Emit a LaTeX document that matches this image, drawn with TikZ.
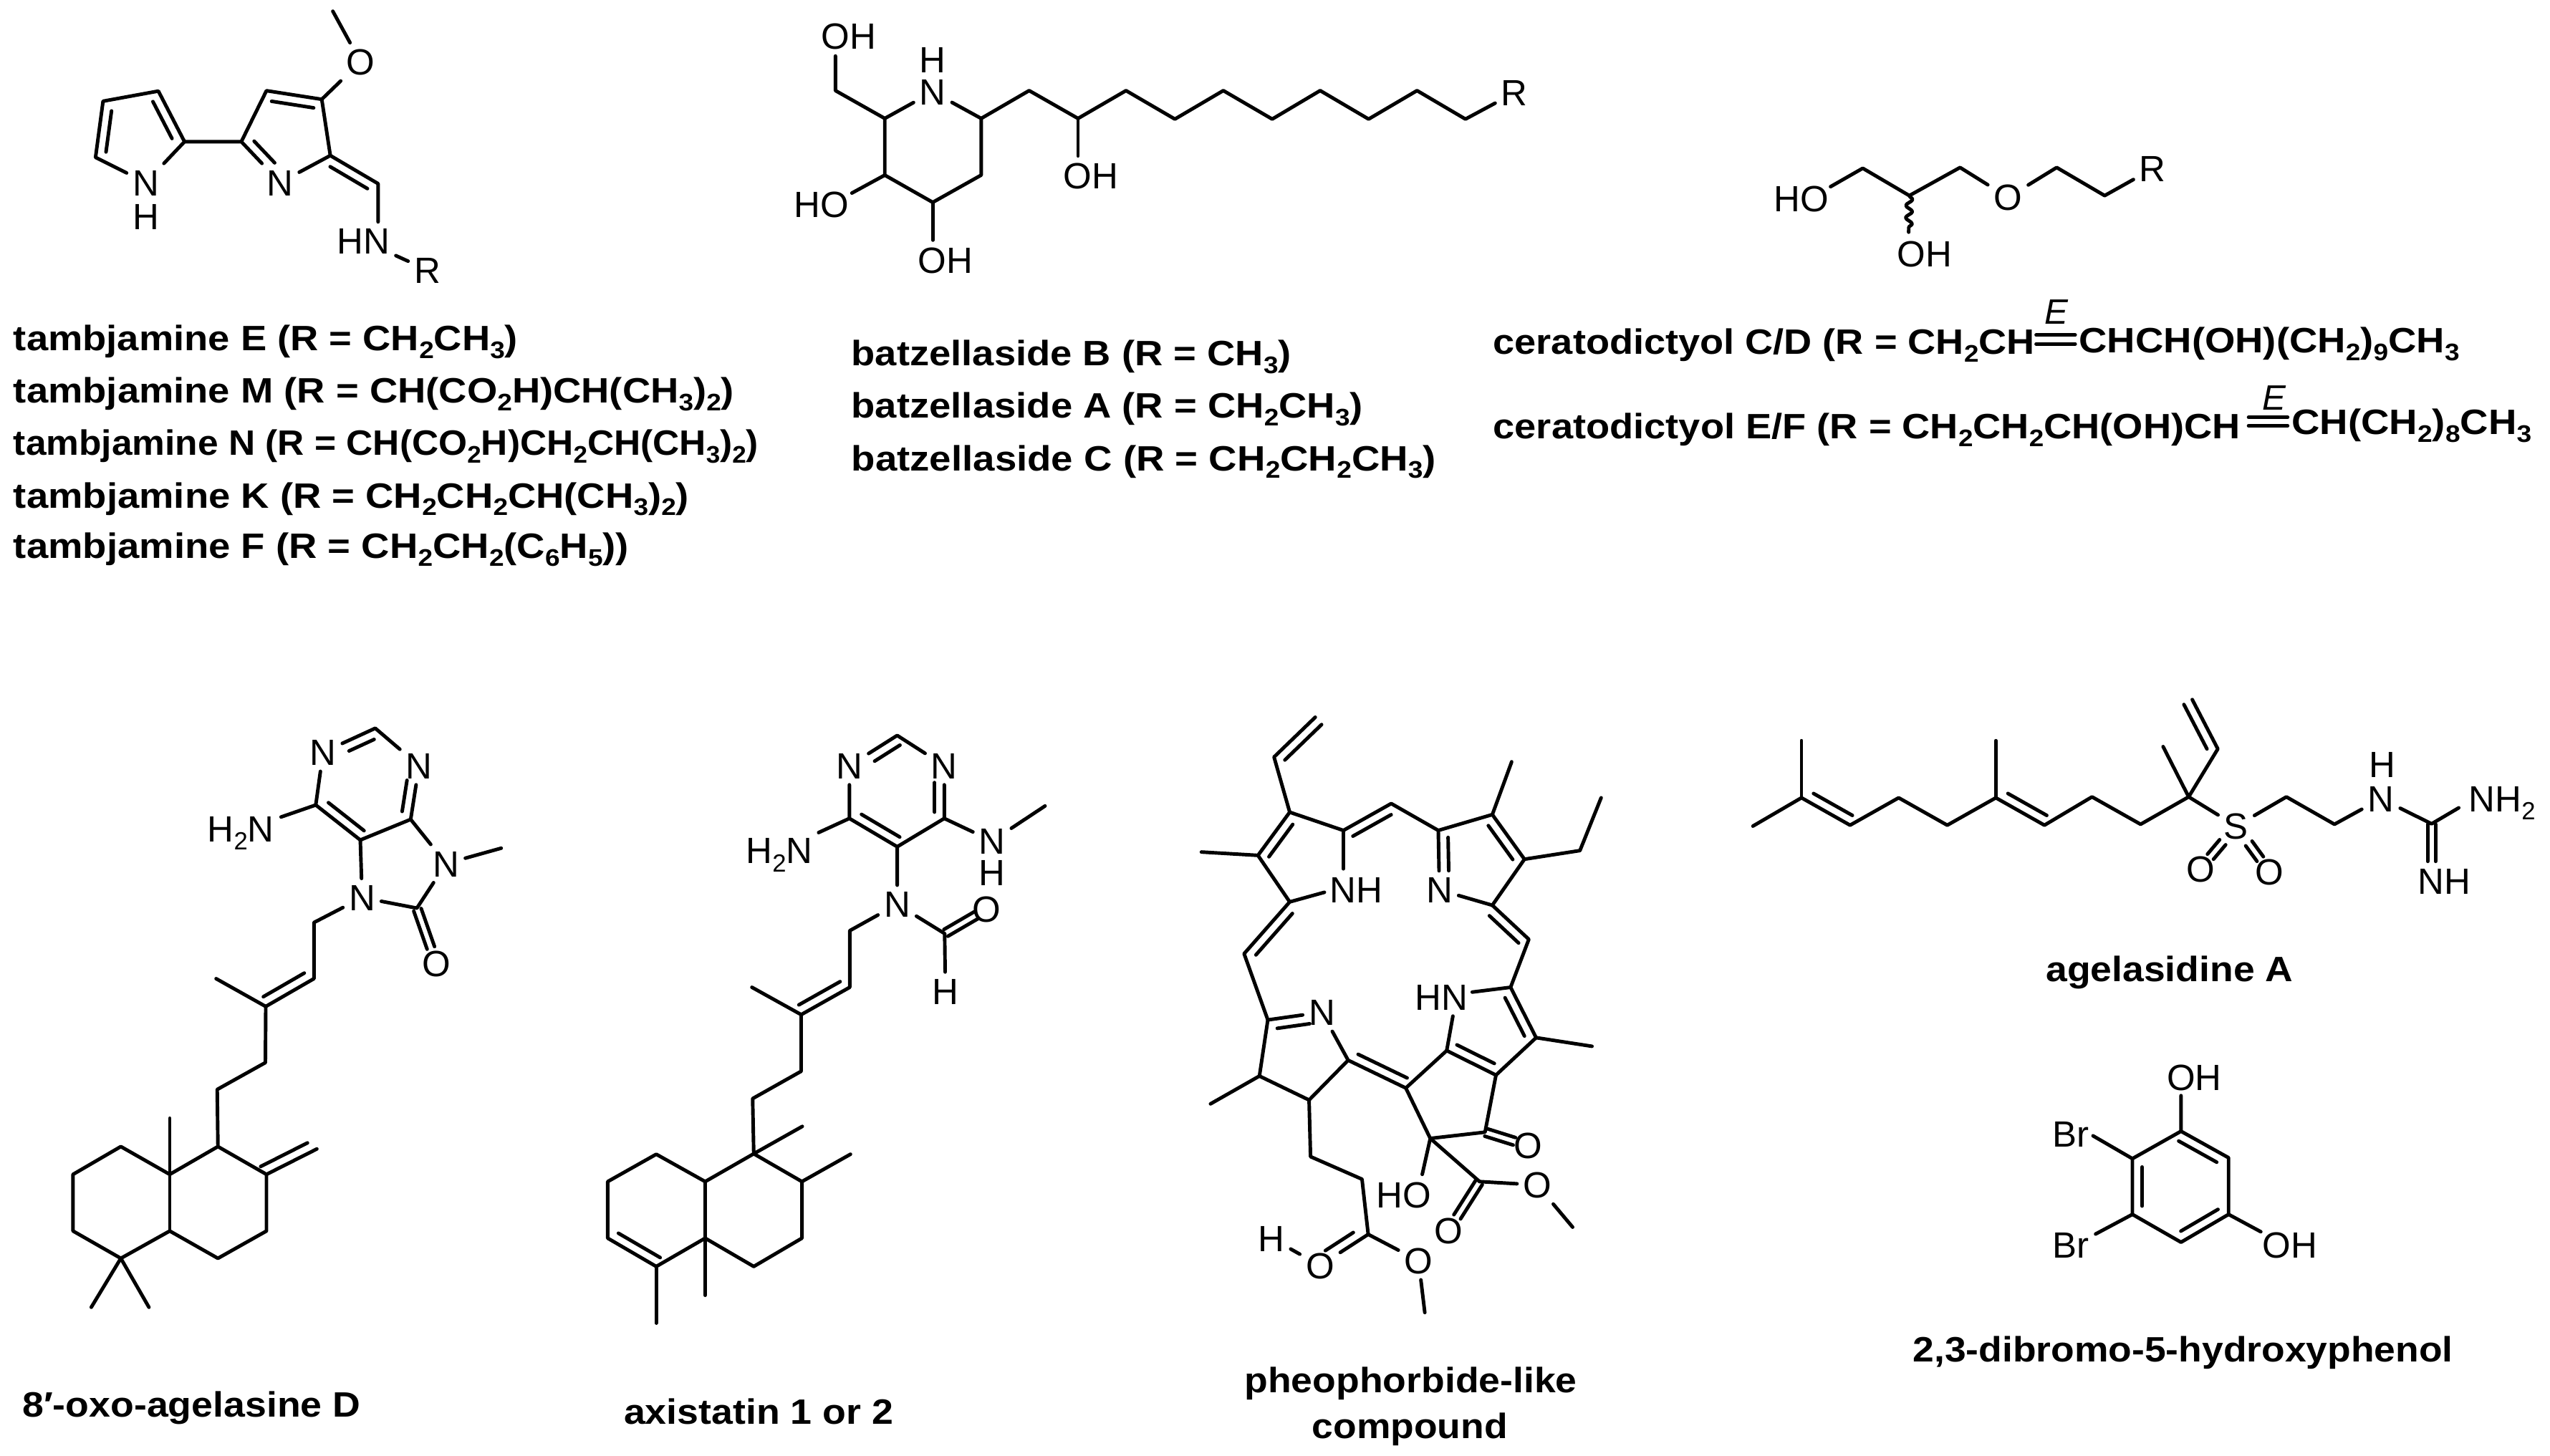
\documentclass[tikz,border=0pt]{standalone}
\usepackage{fontspec}
\setmainfont{Liberation Sans}
\usetikzlibrary{calc,decorations.pathmorphing}
\tikzset{
 bond/.style={line width=1.4pt,line cap=round,line join=round,black},
 atom/.style={inner sep=2.2pt,font=\fontsize{14.5}{14.5}\selectfont,text height=10.4pt,text depth=0pt},
 capt/.style={anchor=base west,inner sep=0pt,font=\fontsize{14}{15}\selectfont\bfseries}
}
\newcommand\sbs[1]{\raisebox{-.22em}{\scalebox{.68}{#1}}}
\newcommand\pts[1]{\foreach \n/\x/\y in {#1}{\coordinate (\n) at (\x,\y);}}
\newcommand\lab[3]{\node[atom] (#1) at (#2) {#3};}
\newcommand\captxt[4]{\node[capt] (#1) at (#2) {\resizebox{#3cm}{\height}{#4}};}
\newcommand\inn[5]{\draw[bond] ($(#1)!#4!(#2)!.135cm!#3:(#2)$) -- ($(#1)!#5!(#2)!.135cm!#3:(#2)$);}
\newcommand\two[4]{\draw[bond] ($(#1)!#3!(#2)!.055cm!90:(#2)$) -- ($(#1)!#4!(#2)!.055cm!90:(#2)$);
 \draw[bond] ($(#1)!#3!(#2)!.055cm!-90:(#2)$) -- ($(#1)!#4!(#2)!.055cm!-90:(#2)$);}
\begin{document}
\begin{tikzpicture}
\path[use as bounding box,fill=white] (0cm,0cm) rectangle (35.6cm,-20.33cm);
% ---------- tambjamine
\begin{scope}[x=.007015cm,y=-.00523cm,name prefix=a-]
\pts{p1/205/270,p2/315/243,p3/367/378,p5/190/420,q1/480/378,q2/530/242,q3/640/265,q4/657/415,c/752/490,me/662/30}
\lab{N}{290,487}{N}\lab{H}{290,577}{H}\lab{Nb}{557,487}{N}\lab{O}{717,165}{O}\lab{HN}{723,643}{HN}\lab{R}{850,720}{R}
\draw[bond] (N)--(p5)--(p1)--(p2)--(p3)--(N);
\draw[bond] (p3)--(q1)--(Nb)--(q4)--(q3)--(q2)--(q1);
\draw[bond] (q3)--(O)--(me);
\draw[bond] (q4)--(c)--(c|-HN.north);
\draw[bond] (HN)--(R);
\inn{p5}{p1}{-90}{.12}{.85}
\inn{p2}{p3}{-90}{.12}{.85}
\inn{q1}{Nb}{90}{.15}{.68}
\inn{q2}{q3}{-90}{.12}{.88}
\inn{q4}{c}{-90}{.1}{.88}
\captxt{t1}{26,935}{7.04}{tambjamine E (R = CH\sbs{2}CH\sbs{3})}
\captxt{t2}{26,1075}{10.06}{tambjamine M (R = CH(CO\sbs{2}H)CH(CH\sbs{3})\sbs{2})}
\captxt{t3}{26,1215}{10.40}{tambjamine N (R = CH(CO\sbs{2}H)CH\sbs{2}CH(CH\sbs{3})\sbs{2})}
\captxt{t4}{26,1355}{9.43}{tambjamine K (R = CH\sbs{2}CH\sbs{2}CH(CH\sbs{3})\sbs{2})}
\captxt{t5}{26,1490}{8.59}{tambjamine F (R = CH\sbs{2}CH\sbs{2}(C\sbs{6}H\sbs{5}))}
\end{scope}
% ---------- batzellaside
\begin{scope}[shift={(11cm,0cm)},x=.006378cm,y=-.004464cm,name prefix=b-]
\pts{c1/104/283,c2/212/370,c3/423/370,c4/423/547,c5/317/632,c6/212/547,e1/104/175,e2/140/603,e3/317/750,e4/635/487,
 k1/528/283,k2/635/370,k3/740/283,k4/847/372,k5/953/283,k6/1060/372,k7/1165/283,k8/1271/372,k9/1377/283,k10/1483/372}
\lab{OHa}{133,113}{OH}\lab{H}{317,187}{H}\lab{N}{317,287}{N}\lab{HO}{73,637}{HO}\lab{OHb}{345,812}{OH}\lab{OHc}{663,548}{OH}\lab{R}{1590,290}{R}
\draw[bond] (e1)--(c1)--(c2)--(N)--(c3)--(c4)--(c5)--(c6)--(c2);
\draw[bond] (c6)--(e2);
\draw[bond] (c5)--(e3);
\draw[bond] (c3)--(k1)--(k2)--(k3)--(k4)--(k5)--(k6)--(k7)--(k8)--(k9)--(k10)--(R);
\draw[bond] (k2)--(e4);
\captxt{z1}{138,1143}{6.14}{batzellaside B (R = CH\sbs{3})}
\captxt{z2}{138,1306}{7.14}{batzellaside A (R = CH\sbs{2}CH\sbs{3})}
\captxt{z3}{138,1470}{8.16}{batzellaside C (R = CH\sbs{2}CH\sbs{2}CH\sbs{3})}
\end{scope}
% ---------- ceratodictyol
\begin{scope}[shift={(20.6cm,-1cm)},x=.009566cm,y=-.003571cm,name prefix=c-]
\pts{c1/565/378,c2/633/485,c3/707/375,c4/848/375,c5/918/485,e1/518/450,w/632/628,
 dA/818/1030,dB/875/1030,dC/818/1065,dD/875/1065,dE/1128/1352,dF/1185/1352,dG/1128/1385,dH/1185/1385}
\lab{HO}{475,497}{HO}\lab{O}{777,492}{O}\lab{R}{988,380}{R}\lab{OH}{655,712}{OH}
\draw[bond] (e1)--(c1)--(c2)--(c3)--(O)--(c4)--(c5)--(R);
\draw[bond,decorate,decoration={snake,amplitude=.045cm,segment length=.17cm}] (c2)--(w);
\captxt{l1}{25,1105}{7.56}{ceratodictyol C/D (R = CH\sbs{2}CH}
\captxt{l2}{880,1100}{5.31}{CHCH(OH)(CH\sbs{2})\sbs{9}CH\sbs{3}}
\captxt{l3}{25,1435}{10.43}{ceratodictyol E/F (R = CH\sbs{2}CH\sbs{2}CH(OH)CH}
\captxt{l4}{1190,1420}{3.35}{CH(CH\sbs{2})\sbs{8}CH\sbs{3}}
\node[atom,font=\fontsize{14}{14}\selectfont\itshape] (Ea) at (848,935) {E};
\node[atom,font=\fontsize{14}{14}\selectfont\itshape] (Eb) at (1165,1272) {E};
\draw[bond] (dA)--(dB) (dC)--(dD) (dE)--(dF) (dG)--(dH);
\end{scope}
% ---------- 8'-oxo-agelasine D
\begin{scope}[shift={(0cm,-9.8cm)},x=.005102cm,y=-.006696cm,name prefix=d-]
\pts{c2/1028/55,c4/1125/245,c5/987/288,c6/865/215,c8/1142/430,me/1373/305,e1/770/240,
 f1/860/460,f2/860/577,f3/728/635,f4/592/577,f5/727/752,f6/595/808,f7/597/927,
 r1/465/985,r2/465/868,r3/331/927,r4/200/985,r5/200/1103,r6/331/1160,r7/465/1103,r8/597/1160,r9/730/1103,r10/730/985,ex/868/932,m1/250/1262,m2/408/1262}
\lab{N1}{885,105}{N}\lab{N3}{1148,133}{N}\lab{N9}{1222,337}{N}\lab{N7}{992,408}{N}\lab{O}{1195,545}{O}
\lab{HN}{660,265}{H\sbs{2}N}
\draw[bond] (c6)--(N1)--(c2)--(N3)--(c4)--(c5)--(c6)--(e1);
\draw[bond] (c4)--(N9)--(c8)--(N7)--(c5);
\draw[bond] (N9)--(me);
\draw[bond] (N7)--(f1)--(f2)--(f3)--(f4);
\draw[bond] (f3)--(f5)--(f6)--(f7)--(r10)--(r9)--(r8)--(r7)--(r6)--(r5)--(r4)--(r3)--(r1)--(f7);
\draw[bond] (r1)--(r7);
\draw[bond] (r1)--(r2);
\draw[bond] (r10)--(ex);
\draw[bond] (m1)--(r6)--(m2);
\inn{N1}{c2}{-90}{.42}{.9}
\inn{N3}{c4}{-90}{.3}{.88}
\inn{c5}{c6}{-90}{.05}{.85}
\inn{f2}{f3}{-90}{.1}{.95}
\inn{r10}{ex}{90}{-.03}{.9}
\two{c8}{O}{.03}{.72}
\captxt{cp}{60,1490}{4.72}{8′-oxo-agelasine D}
\end{scope}
% ---------- axistatin
\begin{scope}[shift={(8cm,-9.8cm)},x=.005102cm,y=-.006696cm,name prefix=e-]
\pts{c2/888/70,c4/1017/243,c5/888/302,c6/757/243,me/1293/217,cho/1018/483,
 f1/758/477,f2/758/595,f3/625/652,f4/490/595,f5/625/770,f6/492/827,f7/495/942,f8/628/885,
 r1/362/1000,r2/228/943,r3/95/1000,r4/95/1118,r5/228/1177,r6/362/1118,r7/495/1177,r8/627/1118,r9/627/1000,r10/760/943,r11/228/1295,r12/362/1237}
\lab{N1}{757,133}{N}\lab{N3}{1017,133}{N}\lab{NH}{1148,290}{N}\lab{Hn}{1148,355}{H}\lab{Nf}{888,422}{N}\lab{O}{1133,432}{O}\lab{Hc}{1020,603}{H}
\lab{HN}{565,310}{H\sbs{2}N}
\draw[bond] (c6)--(N1)--(c2)--(N3)--(c4)--(c5)--(c6)--(HN);
\draw[bond] (c4)--(NH)--(me);
\draw[bond] (c5)--(Nf)--(f1)--(f2)--(f3)--(f4);
\draw[bond] (Nf)--(cho)--(Hc);
\draw[bond] (f3)--(f5)--(f6)--(f7)--(r1)--(r2)--(r3)--(r4)--(r5)--(r6)--(r7)--(r8)--(r9)--(f7)--(f8);
\draw[bond] (r1)--(r6)--(r12);
\draw[bond] (r9)--(r10);
\draw[bond] (r5)--(r11);
\inn{N1}{c2}{-90}{.42}{.95}
\inn{N3}{c4}{-90}{.32}{.88}
\inn{c5}{c6}{-90}{.05}{.85}
\inn{f2}{f3}{-90}{.1}{.95}
\inn{r4}{r5}{90}{.12}{.98}
\two{cho}{O}{.03}{.75}
\captxt{cp}{138,1505}{3.76}{axistatin 1 or 2}
\end{scope}
% ---------- pheophorbide
\begin{scope}[shift={(16.4cm,-9.8cm)},x=.005102cm,y=-.006696cm,name prefix=f-]
\pts{v2/385/32,v1/272/115,a1/315/230,a2/228/320,a3/315/417,a5/462/268,m1/593/212,b1/722/268,b2/870/235,b3/958/328,b4/870/424,m2/970/495,c1/920/595,c2/990/700,c3/880/778,c4/745/727,c5/633/805,c6/850/897,c7/700/910,c8/835/1000,d1/475/747,d2/255/663,d3/232/780,d4/368/830,m3/190/525,me1/73/313,me2/923/125,et1/1110/310,et2/1168/200,me3/1143/718,me4/98/838,me5/1090/1095,p1/372/948,p2/513/995,p3/530/1110,me6/685/1273,
 e1/410/397,e2/462/348,e3/815/605,e4/762/655,e5/678/985}
\lab{NHa}{497,392}{NH}\lab{Nn}{725,392}{N}\lab{HNa}{730,615}{HN}\lab{Nc}{403,647}{N}\lab{Oa}{968,925}{O}\lab{HOa}{628,1027}{HO}\lab{Oe}{993,1007}{O}\lab{Ob}{750,1102}{O}\lab{Hh}{265,1118}{H}\lab{Oc}{398,1175}{O}\lab{Od}{668,1165}{O}
\draw[bond] (v2)--(v1)--(a1)--(a2)--(me1);
\draw[bond] (a2)--(a3)--(e1);
\draw[bond] (a1)--(a5)--(e2);
\draw[bond] (a5)--(m1)--(b1)--(Nn)--(b4)--(b3)--(b2)--(b1);
\draw[bond] (b2)--(me2);
\draw[bond] (b3)--(et1)--(et2);
\draw[bond] (b4)--(m2)--(c1)--(e3);
\draw[bond] (c1)--(c2)--(me3);
\draw[bond] (c2)--(c3)--(c4)--(e4);
\draw[bond] (c4)--(c5);
\draw[bond] (c3)--(c6)--(c7)--(c5);
\draw[bond] (c7)--(e5);
\draw[bond] (c7)--(c8)--(Oe)--(me5);
\draw[bond] (c5)--(d1)--(Nc)--(d2)--(m3)--(a3);
\draw[bond] (d2)--(d3)--(me4);
\draw[bond] (d3)--(d4)--(d1);
\draw[bond] (d4)--(p1)--(p2)--(p3)--(Oc)--(Hh);
\draw[bond] (p3)--(Od)--(me6);
\inn{v1}{v2}{-90}{.1}{.99}
\inn{a1}{a2}{90}{.15}{.9}
\inn{a5}{m1}{-90}{.1}{.9}
\inn{b1}{Nn}{90}{.12}{.68}
\inn{b3}{b2}{90}{.12}{.88}
\inn{b4}{m2}{-90}{.1}{.9}
\inn{c1}{c2}{-90}{.12}{.88}
\inn{c4}{c3}{90}{.12}{.88}
\inn{d1}{c5}{90}{.1}{.95}
\inn{Nc}{d2}{90}{.25}{.85}
\inn{m3}{a3}{-90}{.1}{.9}
\inn{p3}{Oc}{-90}{.2}{.78}
\two{c6}{Oa}{.02}{.68}
\two{c8}{Ob}{.02}{.72}
\captxt{c1t}{190,1440}{4.64}{pheophorbide-like}
\captxt{c2t}{375,1535}{2.73}{compound}
\end{scope}
% ---------- agelasidine and phenol
\begin{scope}[shift={(24.4cm,-9.8cm)},x=.007143cm,y=-.006378cm,name prefix=g-]
\pts{g1/10/272,g2/105/210,g3/105/85,g4/200/270,g5/295/210,g6/390/270,g7/485/210,g8/485/85,g9/580/270,g10/673/208,g11/768/268,g12/862/208,g13/812/98,g14/919/103,g15/869/-5,
 s1/1053/208,s2/1147/268,gc/1337/267,gb/1337/350,e1/1390/232,
 r1/847/940,r2/940/998,r3/940/1122,r4/847/1183,r5/752/1122,r6/752/1000,f1/847/862,f2/1003/1160,f3/675/950,f4/680/1165}
\lab{S}{955,272}{S}\lab{Oa}{885,365}{O}\lab{Ob}{1020,372}{O}\lab{H}{1240,137}{H}\lab{N}{1238,212}{N}\lab{NHb}{1475,212}{NH\sbs{2}}\lab{NHc}{1362,392}{NH}
\lab{OHa}{873,822}{OH}\lab{Bra}{632,945}{Br}\lab{Brb}{632,1188}{Br}\lab{OHb}{1060,1188}{OH}
\draw[bond] (g1)--(g2)--(g4)--(g5)--(g6)--(g7)--(g9)--(g10)--(g11)--(g12)--(S)--(s1)--(s2)--(N)--(gc)--(e1);
\draw[bond] (g2)--(g3);
\draw[bond] (g7)--(g8);
\draw[bond] (g13)--(g12)--(g14)--(g15);
\inn{g2}{g4}{90}{.15}{.95}
\inn{g7}{g9}{90}{.15}{.95}
\inn{g14}{g15}{90}{.09}{.99}
\two{gc}{gb}{.01}{.99}
\two{S}{Oa}{.38}{.72}
\two{S}{Ob}{.38}{.72}
\draw[bond] (r1)--(r2)--(r3)--(r4)--(r5)--(r6)--(r1)--(f1);
\draw[bond] (r3)--(f2);
\draw[bond] (r6)--(f3);
\draw[bond] (r5)--(f4);
\inn{r1}{r2}{-90}{.05}{.85}
\inn{r3}{r4}{-90}{.12}{.9}
\inn{r5}{r6}{-90}{.15}{.85}
\captxt{ga}{582,612}{3.45}{agelasidine A}
\captxt{ph}{322,1445}{7.54}{2,3-dibromo-5-hydroxyphenol}
\end{scope}
\end{tikzpicture}
\end{document}
